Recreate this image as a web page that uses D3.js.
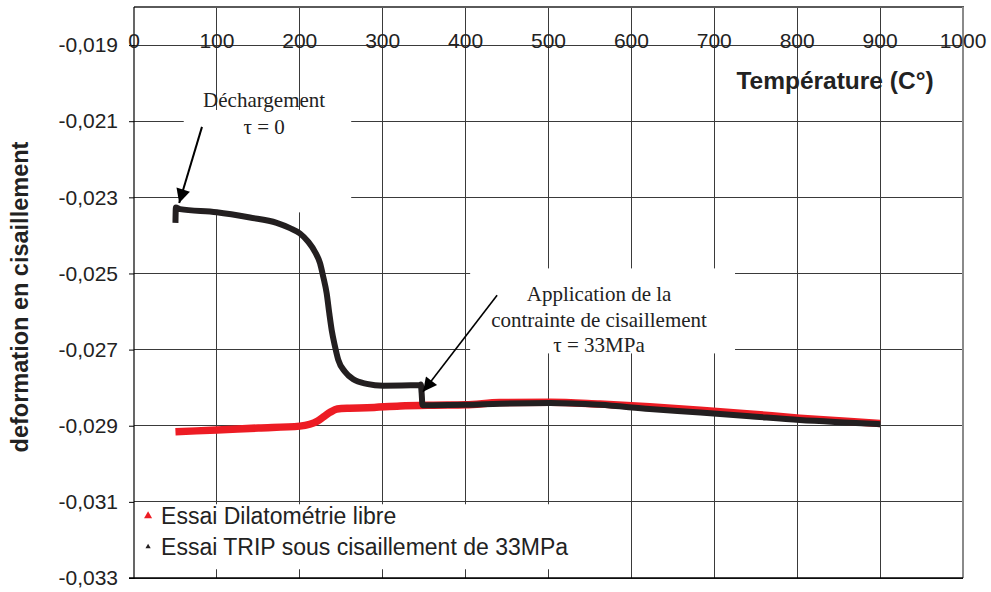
<!DOCTYPE html>
<html>
<head>
<meta charset="utf-8">
<script src="https://cdn.jsdelivr.net/npm/d3@7"></script>
<style>
  html, body { margin: 0; padding: 0; background: #fff; }
  svg { display: block; }
</style>
</head>
<body>
<svg id="chart" width="991" height="592"></svg>
<script>
// ---------------- DATA ----------------
const xTicks = [0, 100, 200, 300, 400, 500, 600, 700, 800, 900, 1000];
const yTicks = [-0.019, -0.021, -0.023, -0.025, -0.027, -0.029, -0.031, -0.033];
const yTickLabels = ["-0,019", "-0,021", "-0,023", "-0,025", "-0,027", "-0,029", "-0,031", "-0,033"];

// Essai Dilatométrie libre (red)
const redT = [50, 100, 150, 200, 212, 221, 229, 237, 245, 260, 281, 321, 361, 400, 441, 502, 562, 622, 683, 743, 803, 864, 900];
const redV = [-0.02916, -0.02911, -0.02906, -0.02901, -0.02896, -0.02888, -0.02876, -0.02864, -0.02856, -0.02854, -0.02853, -0.02848, -0.02846, -0.02845, -0.02839, -0.02838, -0.02843, -0.02850, -0.02859, -0.02869, -0.02880, -0.02889, -0.02894];

// Essai TRIP sous cisaillement de 33MPa (black)
const blackT = [50, 50.5, 55.5, 99.8, 139.9, 172.1, 188.2, 200.2, 210.3, 218.3, 224.4, 228.3, 232.4, 235.6, 238.5, 242.5, 246.4, 254.5, 264.5, 280.7, 300.7, 345, 346, 347, 348, 360, 400, 441, 502, 562, 622, 683, 743, 803, 864, 900];
const blackV = [-0.02367, -0.02327, -0.02331, -0.02339, -0.02353, -0.02367, -0.02381, -0.02395, -0.02417, -0.02443, -0.02473, -0.02509, -0.02552, -0.02605, -0.02649, -0.02692, -0.02727, -0.02758, -0.02778, -0.02790, -0.02795, -0.02793, -0.02792, -0.02815, -0.02846, -0.02846, -0.02845, -0.02842, -0.02840, -0.02845, -0.02856, -0.02865, -0.02875, -0.02885, -0.02892, -0.02896];

const seriesNames = ["Essai Dilatométrie libre", "Essai TRIP sous cisaillement de 33MPa"];
const seriesColors = ["#ed1c24", "#231f20"];

const xTitle = "Température (C°)";
const yTitle = "deformation en cisaillement";

// ---------------- LAYOUT ----------------
const svg = d3.select("#chart");
const W = 991, H = 592;
const m = { left: 134, right: 28, top: 7, bottom: 14 };
const x = d3.scaleLinear().domain([0, 1000]).range([m.left, W - m.right]);
const y = d3.scaleLinear().domain([-0.033, -0.018]).range([H - m.bottom, m.top]);

const FONT = "Arial, 'Liberation Sans', Helvetica, sans-serif";
const SERIF = "'Times New Roman', 'Liberation Serif', serif";
const gridColor = "#3a3a3a";

// gridlines
const g = svg.append("g");
g.selectAll("line.vg").data(xTicks.slice(1, -1)).join("line")
  .attr("x1", d => x(d)).attr("x2", d => x(d))
  .attr("y1", y.range()[1]).attr("y2", y.range()[0])
  .attr("stroke", gridColor).attr("stroke-width", 1).attr("shape-rendering", "crispEdges");
g.selectAll("line.hg").data(yTicks).join("line")
  .attr("x1", x.range()[0]).attr("x2", x.range()[1])
  .attr("y1", d => y(d)).attr("y2", d => y(d))
  .attr("stroke", gridColor).attr("stroke-width", 1).attr("shape-rendering", "crispEdges");

// top & right borders
svg.append("line").attr("x1", x.range()[0]).attr("x2", x.range()[1] + 1)
  .attr("y1", y.range()[1]).attr("y2", y.range()[1])
  .attr("stroke", "#5a5a5a").attr("stroke-width", 2);
svg.append("line").attr("x1", x.range()[1]).attr("x2", x.range()[1])
  .attr("y1", y.range()[1]).attr("y2", y.range()[0])
  .attr("stroke", "#8a8a8a").attr("stroke-width", 2);

// white annotation backgrounds (interrupt grid)
const boxes = [
  [60, 262, -0.020705, -0.023395],
  [405.5, 725, -0.024867, -0.027100],
  [0, 531, -0.031063, -0.032770]
];
svg.selectAll("rect.box").data(boxes).join("rect")
  .attr("x", d => x(d[0]) + (d[0] === 0 ? 1 : 0))
  .attr("y", d => y(d[2]))
  .attr("width", d => x(d[1]) - x(d[0]) - (d[0] === 0 ? 1 : 0))
  .attr("height", d => y(d[3]) - y(d[2]))
  .attr("fill", "#fff");

// left axis
const yAxis = d3.axisLeft(y).tickValues(yTicks)
  .tickFormat((d, i) => yTickLabels[i]).tickSize(5).tickPadding(11);
const ya = svg.append("g").attr("transform", `translate(${m.left},0)`).call(yAxis);
ya.select(".domain").remove();
ya.selectAll(".tick line").attr("stroke", "#000");
ya.selectAll("text").attr("font-family", FONT).attr("font-size", 21).attr("fill", "#222");
svg.append("line").attr("x1", m.left).attr("x2", m.left)
  .attr("y1", y.range()[1]).attr("y2", y.range()[0] + 1)
  .attr("stroke", "#000").attr("stroke-width", 1.2);
// bottom line
svg.append("line").attr("x1", m.left - 5).attr("x2", x.range()[1])
  .attr("y1", y.range()[0]).attr("y2", y.range()[0])
  .attr("stroke", "#000").attr("stroke-width", 1.5);

// x tick labels (top)
svg.append("g").selectAll("text").data(xTicks).join("text")
  .attr("x", d => x(d)).attr("y", y(-0.019) + 3)
  .attr("text-anchor", "middle")
  .attr("font-family", FONT).attr("font-size", 21).attr("fill", "#222")
  .text(d => d);

// axis titles
svg.append("text").attr("x", 835).attr("y", 89)
  .attr("text-anchor", "middle").attr("font-family", FONT)
  .attr("font-weight", "bold").attr("font-size", 24.5).attr("fill", "#222")
  .text(xTitle);
svg.append("text").attr("transform", "translate(28,297) rotate(-90)")
  .attr("text-anchor", "middle").attr("font-family", FONT)
  .attr("font-weight", "bold").attr("font-size", 23.5).attr("fill", "#222")
  .text(yTitle);

// series
const line = d3.line().x(d => x(d[0])).y(d => y(d[1])).curve(d3.curveMonotoneX);
const redData = redT.map((t, i) => [t, redV[i]]);
const blackData = blackT.map((t, i) => [t, blackV[i]]);
svg.append("path").datum(redData).attr("d", line)
  .attr("fill", "none").attr("stroke", seriesColors[0]).attr("stroke-width", 7.5)
  .attr("stroke-linejoin", "round");
svg.append("path").datum(blackData).attr("d", line)
  .attr("fill", "none").attr("stroke", seriesColors[1]).attr("stroke-width", 6)
  .attr("stroke-linejoin", "round");

// annotations
const defs = svg.append("defs");
defs.append("marker").attr("id", "ah").attr("viewBox", "0 0 10 10")
  .attr("refX", 10).attr("refY", 5).attr("markerUnits", "userSpaceOnUse")
  .attr("markerWidth", 17).attr("markerHeight", 14).attr("orient", "auto")
  .append("path").attr("d", "M0,0 L10,5 L0,10 z").attr("fill", "#000");

const arrows = [
  { x1: 82, y1: -0.02115, x2: 54.5, y2: -0.02315, w: 2 },
  { x1: 438, y1: -0.02557, x2: 348.6, y2: -0.02811, w: 1.6 }
];
svg.selectAll("line.arrow").data(arrows).join("line")
  .attr("x1", d => x(d.x1)).attr("y1", d => y(d.y1))
  .attr("x2", d => x(d.x2)).attr("y2", d => y(d.y2))
  .attr("stroke", "#000").attr("stroke-width", d => d.w)
  .attr("marker-end", "url(#ah)");

const notes = [
  { t: 157, v: -0.02062, s: "Déchargement" },
  { t: 157, v: -0.02133, s: "τ = 0" },
  { t: 561, v: -0.02573, s: "Application de la" },
  { t: 561, v: -0.02641, s: "contrainte de cisaillement" },
  { t: 561, v: -0.02707, s: "τ = 33MPa" }
];
svg.selectAll("text.note").data(notes).join("text")
  .attr("x", d => x(d.t)).attr("y", d => y(d.v))
  .attr("text-anchor", "middle").attr("font-family", SERIF)
  .attr("font-size", 21).attr("fill", "#222")
  .text(d => d.s);

// legend
const sym = d3.symbol().type(d3.symbolTriangle);
const leg = [
  { t: 17, v: -0.03137, size: 28 },
  { t: 17, v: -0.03218, size: 12 }
];
leg.forEach((d, i) => {
  svg.append("path").attr("d", sym.size(d.size)())
    .attr("transform", `translate(${x(d.t)},${y(d.v)})`)
    .attr("fill", seriesColors[i]);
  svg.append("text").attr("x", x(d.t) + 13).attr("y", y(d.v))
    .attr("dy", "0.36em").attr("font-family", FONT).attr("font-size", 23)
    .attr("fill", "#222").text(seriesNames[i]);
});
</script>
</body>
</html>
